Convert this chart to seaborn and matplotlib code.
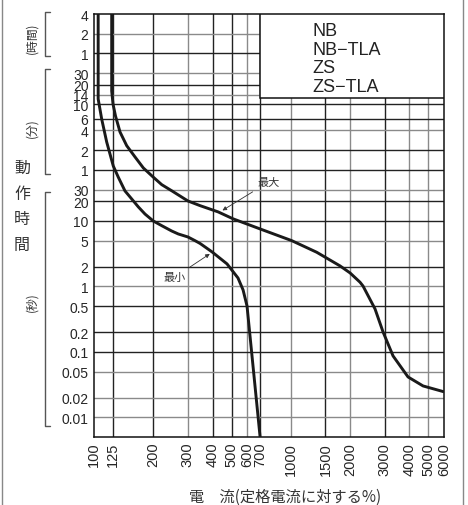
import numpy as np
import pandas as pd
import matplotlib.pyplot as plt
import seaborn as sns
from matplotlib.lines import Line2D
from matplotlib.patches import Rectangle

# operating characteristic: current (% of rated) vs operating time (seconds)
max_current = [123, 123, 124.9, 128.6, 135.6, 146.6, 161.6, 178.1, 199.5, 220.8, 249, 300,
               346, 427, 510, 698, 1011, 1354, 1778, 2000, 2247, 2327, 2678, 2941, 3306,
               3939, 4696, 6000]
max_time = [14400, 961, 609, 399, 227, 140.5, 94.5, 64.2, 46.8, 35.7, 28.6, 20.1,
            17.05, 13.7, 10.7, 7.52, 4.98, 3.31, 2.05, 1.6, 1.154, 1.01, 0.451, 0.201, 0.0865,
            0.0413, 0.0301, 0.0245]

min_current = [105, 105, 109.4, 116, 125.3, 132.9, 143.7, 155.4, 168, 181.6, 200, 220.8,
               248, 268, 300, 326, 346, 398, 474, 539, 572, 599, 698]
min_time = [14400, 726, 359, 160, 68.8, 46.3, 28.6, 21.6, 16.3, 12.7, 9.95, 8.44,
            7.0, 6.3, 5.67, 4.98, 4.51, 3.35, 2.2, 1.34, 0.88, 0.5, 0.005]

x_ticks = [100, 125, 200, 300, 400, 500, 600, 700, 1000, 1500, 2000, 3000, 4000, 5000, 6000]
x_dark = [125, 200, 400, 500, 700, 1500, 3000]

# 4h 2h 1h | 30m 20m 14m 10m 6m 4m 2m 1m | seconds
y_ticks = [14400, 7200, 3600, 1800, 1200, 840, 600, 360, 240, 120, 60,
           30, 20, 10, 5, 2, 1, 0.5, 0.2, 0.1, 0.05, 0.02, 0.01]
y_labels = ["4", "2", "1", "30", "20", "14", "10", "6", "4", "2", "1",
            "30", "20", "10", "5", "2", "1", "0.5", "0.2", "0.1", "0.05", "0.02", "0.01"]
y_dark = [3600, 1200, 600, 360, 120, 60, 20, 10, 2, 0.5, 0.2, 0.1]

models = ["NB", "NB−TLA", "ZS", "ZS−TLA"]

sns.set_style("white")
plt.rcParams["font.family"] = ["Liberation Sans", "Noto Sans CJK JP"]
jp = ["Noto Sans CJK JP", "DejaVu Sans"]

W, H = 468, 506
fig = plt.figure(figsize=(W / 100, H / 100), dpi=100)
ax = fig.add_axes([94 / W, 1 - 438 / H, 350 / W, 423 / H])
ax.set_xscale("log")
ax.set_yscale("log")


def px(x, y):
    return x / W, 1 - y / H


df_max = pd.DataFrame({"current": max_current, "time": max_time})
df_min = pd.DataFrame({"current": min_current, "time": min_time})
for d in (df_max, df_min):
    sns.lineplot(data=d, x="current", y="time", sort=False, estimator=None,
                 color="#1a1a1a", lw=2.1, ax=ax, zorder=3,
                 solid_joinstyle="round", solid_capstyle="butt")

ax.set_xlim(100, 6000)
ax.set_ylim(0.005, 14400)

for v in x_ticks[1:-1]:
    ax.axvline(v, color="#222222" if v in x_dark else "#8a8a8a", lw=1, zorder=1)
for v in y_ticks[1:]:
    ax.axhline(v, color="#222222" if v in y_dark else "#8a8a8a", lw=1, zorder=1)

ax.xaxis.set_major_locator(plt.FixedLocator(x_ticks))
ax.xaxis.set_minor_locator(plt.NullLocator())
ax.set_xticklabels([str(v) for v in x_ticks], rotation=90, fontsize=10.5)
ax.yaxis.set_major_locator(plt.FixedLocator(y_ticks))
ax.yaxis.set_minor_locator(plt.NullLocator())
ax.set_yticklabels(y_labels, fontsize=10)
ax.tick_params(length=0)
ax.tick_params(axis="y", pad=4)
ax.tick_params(axis="x", pad=3.5)
ax.set_xlabel("")
ax.set_ylabel("")
for s in ax.spines.values():
    s.set_color("#111111")
    s.set_linewidth(1.1)

# model box
ax.add_patch(Rectangle((0.474, 0.801), 0.526, 0.199, transform=ax.transAxes,
                       facecolor="white", edgecolor="#111111", lw=1.1, zorder=4))
for i, m in enumerate(models):
    ax.text(0.623, 0.96 - i * 0.0435, m, transform=ax.transAxes, fontsize=13,
            va="center", ha="left", color="#222222", zorder=5)

# max/min annotations
ax.annotate("最大", xy=(437, 13.7), xytext=(770, 39), fontsize=8, family=jp,
            color="#333333", ha="center", va="center",
            arrowprops=dict(arrowstyle="-|>", lw=0.6, color="#333333", mutation_scale=6))
ax.annotate("最小", xy=(398, 3.3), xytext=(258, 1.39), fontsize=8, family=jp,
            color="#333333", ha="center", va="center",
            arrowprops=dict(arrowstyle="-|>", lw=0.6, color="#333333", mutation_scale=6))

# left side unit labels and brackets
for y0, y1 in [(13, 57), (70, 175), (193, 427)]:
    xs = [50 / W, 45 / W, 45 / W, 50 / W]
    ys = [1 - y0 / H, 1 - y0 / H, 1 - y1 / H, 1 - y1 / H]
    fig.add_artist(Line2D(xs, ys, color="#555555", lw=1))

for txt, yc in [("(時間)", 38), ("(分)", 128), ("(秒)", 302)]:
    fig.text(*px(32, yc), txt, rotation=90, fontsize=8.5, family=jp,
             ha="center", va="center", color="#333333")

for ch, yc in zip("動作時間", [168, 194, 220, 245]):
    fig.text(*px(22, yc), ch, fontsize=11.5, family=jp, ha="center", va="center",
             color="#333333")

fig.text(*px(285, 497), "電　流(定格電流に対する%)", fontsize=11, family=jp,
         ha="center", va="center", color="#333333")

# page border
for xb in [1.5, 463]:
    fig.add_artist(Line2D([xb / W, xb / W], [0, 1], color="#888888", lw=1))

fig.savefig("out.png", dpi=100)
